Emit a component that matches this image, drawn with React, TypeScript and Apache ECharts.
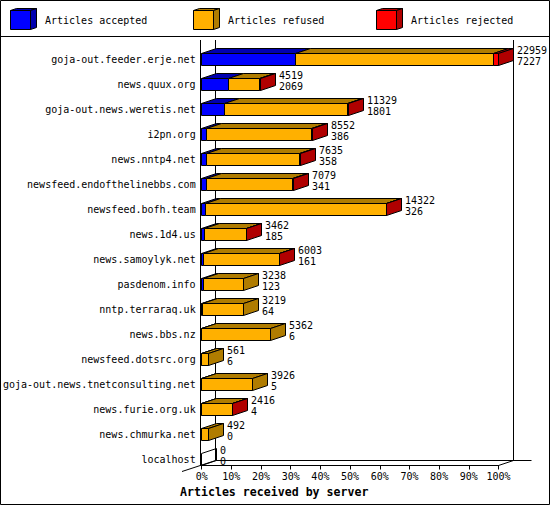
import { useEffect, useRef } from 'react';
import * as echarts from 'echarts';

const categories = [
  'goja-out.feeder.erje.net',
  'news.quux.org',
  'goja-out.news.weretis.net',
  'i2pn.org',
  'news.nntp4.net',
  'newsfeed.endofthelinebbs.com',
  'newsfeed.bofh.team',
  'news.1d4.us',
  'news.samoylyk.net',
  'pasdenom.info',
  'nntp.terraraq.uk',
  'news.bbs.nz',
  'newsfeed.dotsrc.org',
  'goja-out.news.tnetconsulting.net',
  'news.furie.org.uk',
  'news.chmurka.net',
  'localhost',
];
// total offered (top label) and accepted (bottom label)
const totals = [22959, 4519, 11329, 8552, 7635, 7079, 14322, 3462, 6003, 3238, 3219, 5362, 561, 3926, 2416, 492, 0];
const accepted = [7227, 2069, 1801, 386, 358, 341, 326, 185, 161, 123, 64, 6, 6, 5, 4, 0, 0];
// rejected read from the red segments (tiny where only the red end shows)
const rejected = [370, 20, 40, 20, 100, 15, 20, 10, 10, 0, 0, 0, 0, 0, 10, 0, 0];

const seriesNames = ['Articles accepted', 'Articles refused', 'Articles rejected'];
const frontColors = ['#0000ff', '#ffb000', '#ff0000'];
const darkColors = ['#0000b0', '#b07c00', '#b00000'];
const legendX = [10, 193, 376];

const FONT = '"DejaVu Sans Mono", monospace';
const DX = 15;
const DY = 5;
const H = 12;

const maxTotal = Math.max(...totals);

export default function App() {
  const ref = useRef<HTMLDivElement | null>(null);

  useEffect(() => {
    document.body.style.margin = '0';
    if (!ref.current) return;
    const chart = echarts.init(ref.current, undefined, { renderer: 'svg' });

    const data = categories.map((_, i) => [i, accepted[i], totals[i] - accepted[i] - rejected[i], rejected[i], totals[i]]);

    const legendGraphics = seriesNames.flatMap((name, k) => {
      const x = legendX[k] + 0.5;
      return [
        { type: 'polygon', shape: { points: [[x, 10.5], [x + 20, 10.5], [x + 26, 8.5], [x + 6, 8.5]] }, style: { fill: darkColors[k], stroke: '#000', lineWidth: 1 } },
        { type: 'polygon', shape: { points: [[x + 20, 10.5], [x + 26, 8.5], [x + 26, 27.5], [x + 20, 29.5]] }, style: { fill: darkColors[k], stroke: '#000', lineWidth: 1 } },
        { type: 'rect', shape: { x, y: 10.5, width: 20, height: 19 }, style: { fill: frontColors[k], stroke: '#000', lineWidth: 1 } },
        { type: 'text', x: legendX[k] + 35, y: 20, style: { text: name, fill: '#000', fontSize: 10, fontFamily: FONT, verticalAlign: 'middle' } },
      ];
    });

    const line = (x1: number, y1: number, x2: number, y2: number) => ({
      type: 'line', z: 0, shape: { x1, y1, x2, y2 }, style: { stroke: '#000', lineWidth: 1 },
    });

    chart.setOption({
      animation: false,
      backgroundColor: '#fff',
      grid: { left: 200.5, top: 47, width: 298, height: 425 },
      xAxis: {
        type: 'value',
        min: 0,
        max: 100,
        interval: 10,
        offset: -6.5,
        axisLine: { show: true, lineStyle: { color: '#000', width: 1 } },
        axisTick: { show: true, length: 4, lineStyle: { color: '#000' } },
        splitLine: { show: false },
        axisLabel: { formatter: '{value}%', color: '#000', fontSize: 10, fontFamily: FONT, margin: 6 },
      },
      yAxis: {
        type: 'category',
        data: categories,
        inverse: true,
        axisLine: { show: false },
        axisTick: { show: false },
        splitLine: { show: false },
        axisLabel: { color: '#000', fontSize: 10, fontFamily: FONT, margin: 6 },
      },
      graphic: [
        { type: 'rect', shape: { x: 0.5, y: 0.5, width: 549, height: 504 }, style: { fill: 'none', stroke: '#000', lineWidth: 1 } },
        line(0, 36.5, 550, 36.5),
        ...legendGraphics,
        line(200.5, 40, 200.5, 465.5),
        line(215.5, 40, 215.5, 460.5),
        line(513.5, 40, 513.5, 460.5),
        line(215.5, 460.5, 531.5, 460.5),
        line(182, 471.5, 215.5, 460.5),
        line(498.5, 465.5, 513.5, 460.5),
        {
          type: 'text', x: 180, y: 492,
          style: { text: 'Articles received by server', fill: '#000', fontSize: 11.6, fontWeight: 'bold', fontFamily: FONT, verticalAlign: 'middle' },
        },
      ],
      series: [
        {
          type: 'custom',
          clip: false,
          data,
          encode: { x: 4, y: 0 },
          renderItem: (_params: unknown, api: any) => {
            const i = api.value(0);
            const vals = [api.value(1), api.value(2), api.value(3)];
            const total = api.value(4);
            const toX = (v: number) => Math.round(api.coord([(v / maxTotal) * 100, i])[0] - 0.5) + 0.5;
            const c = api.coord([0, i])[1];
            const yt = c - H / 2;
            const yb = c + H / 2;
            const children: any[] = [];
            let last = -1;
            vals.forEach((v: number, k: number) => { if (v > 0) last = k; });
            let start = 0;
            vals.forEach((v: number, k: number) => {
              if (v <= 0) return;
              const xa = toX(start);
              const xb = toX(start + v);
              children.push({
                type: 'polygon',
                shape: { points: [[xa, yt], [xb, yt], [xb + DX, yt - DY], [xa + DX, yt - DY]] },
                style: { fill: darkColors[k], stroke: '#000', lineWidth: 1 },
              });
              children.push({
                type: 'rect',
                shape: { x: xa, y: yt, width: xb - xa, height: H },
                style: { fill: frontColors[k], stroke: '#000', lineWidth: 1 },
              });
              start += v;
            });
            const xe = toX(total);
            children.push({
              type: 'polygon',
              shape: { points: [[xe, yt], [xe + DX, yt - DY], [xe + DX, yb - DY], [xe, yb]] },
              style: { fill: last >= 0 ? darkColors[last] : 'none', stroke: '#000', lineWidth: 1 },
            });
            const tx = xe + DX + 3.5;
            children.push({ type: 'text', style: { text: String(total), x: tx, y: c - 9, fill: '#000', fontSize: 10, fontFamily: FONT, verticalAlign: 'middle' } });
            children.push({ type: 'text', style: { text: String(vals[0]), x: tx, y: c + 2, fill: '#000', fontSize: 10, fontFamily: FONT, verticalAlign: 'middle' } });
            return { type: 'group', children };
          },
        },
      ],
    });

    return () => chart.dispose();
  }, []);

  return <div ref={ref} style={{ width: 550, height: 505 }} />;
}
